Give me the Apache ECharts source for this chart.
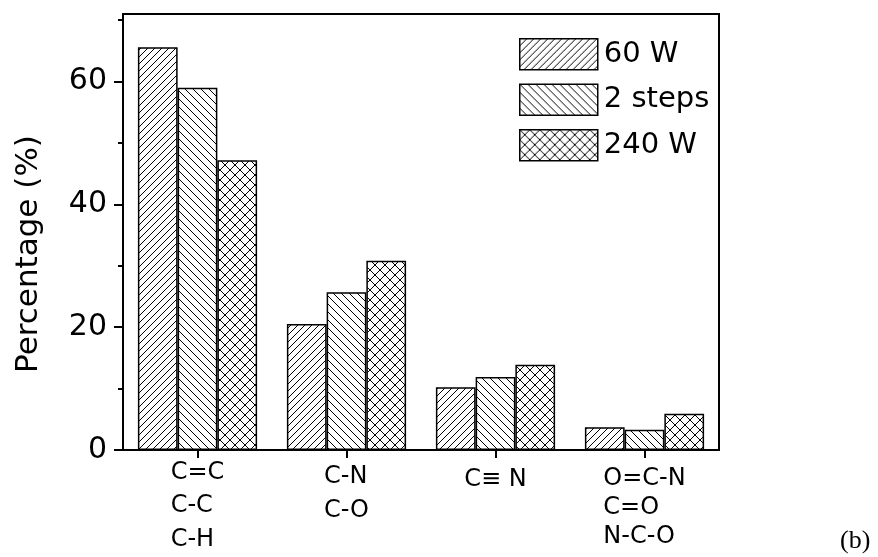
<!DOCTYPE html>
<html><head><meta charset="utf-8">
<script src="https://cdn.jsdelivr.net/npm/echarts@6/dist/echarts.min.js"></script>
<style>html,body{margin:0;padding:0;background:#fff}#c{width:878px;height:557px}</style>
</head><body><div id="c"></div>
<script>
const categories = ['C=C\nC-C\nC-H', 'C-N\nC-O', 'C≡ N', 'O=C-N\nC=O\nN-C-O'];
const seriesNames = ['60 W', '2 steps', '240 W'];
const values60W = [65.6, 20.5, 10.2, 3.7];
const values2steps = [59.0, 25.7, 11.9, 3.3];
const values240W = [47.2, 30.8, 13.9, 5.9];
const yTickValues = [0, 20, 40, 60];
const yMinorTickValues = [10, 30, 50, 70];
const yAxisTitle = 'Percentage (%)';
const panelLabel = '(b)';

const FONT = 'DejaVu Sans';

function hatch(p, fwd, back) {
  const c = document.createElement('canvas');
  c.width = p; c.height = p;
  const g = c.getContext('2d');
  g.fillStyle = '#fff'; g.fillRect(0, 0, p, p);
  g.fillStyle = '#000';
  for (let x = 0; x < p; x++) {
    for (let y = 0; y < p; y++) {
      const f = fwd && ((x + y) % p === p - 1);
      const b = back && (((x - y) % p + p) % p === 0);
      if (f || b) g.fillRect(x, y, 1, 1);
    }
  }
  return { image: c, repeat: 'repeat' };
}

const fills = [hatch(7, true, false), hatch(8, false, true), hatch(10, true, true)];
const seriesData = [values60W, values2steps, values240W];

const labelKeys = ['g1', 'g2', 'g3', 'g4'];
const labelPads = [0, 4, 0, 8];

const chart = echarts.init(document.getElementById('c'), null, { renderer: 'canvas' });
chart.setOption({
  animation: false,
  backgroundColor: '#fff',
  title: {
    text: panelLabel, left: 840, top: 528, padding: 0,
    textStyle: { fontFamily: 'Liberation Serif', fontSize: 26, fontWeight: 'normal', color: '#000' }
  },
  grid: { left: 123, right: 159, top: 14, bottom: 107, show: true, borderColor: '#000', borderWidth: 2, containLabel: false },
  legend: {
    orient: 'vertical', left: 514, top: 33, itemWidth: 78, itemHeight: 31, itemGap: 13,
    icon: 'rect',
    itemStyle: { borderColor: '#000', borderWidth: 1.5 },
    textStyle: { fontFamily: FONT, fontSize: 29, color: '#000', padding: [0, 0, 0, 1] },
    data: seriesNames
  },
  xAxis: {
    type: 'category',
    data: categories.map((c, i) => ({ value: c, textStyle: { padding: [labelPads[i], 0, 0, 0] } })),
    axisLine: { show: true, lineStyle: { color: '#000', width: 2 } },
    axisTick: { show: true, alignWithLabel: true, length: 8, lineStyle: { color: '#000', width: 2 } },
    axisLabel: {
      margin: 6, color: '#000', fontFamily: FONT, fontSize: 24, interval: 0,
      formatter: function (v, i) {
        return v.split('\n').map(l => '{' + labelKeys[i] + '|' + l + '}').join('\n');
      },
      rich: {
        g1: { align: 'left', lineHeight: 33.5, fontFamily: FONT, fontSize: 24, color: '#000' },
        g2: { align: 'left', lineHeight: 34, fontFamily: FONT, fontSize: 24, color: '#000' },
        g3: { lineHeight: 48, fontFamily: FONT, fontSize: 24, color: '#000' },
        g4: { align: 'left', lineHeight: 29, fontFamily: FONT, fontSize: 24, color: '#000' }
      }
    },
    splitLine: { show: false }
  },
  yAxis: [{
    type: 'value', min: 0, max: 71, interval: 10, position: 'left',
    name: yAxisTitle, nameLocation: 'middle', nameGap: 79, nameRotate: 90,
    nameTextStyle: { fontFamily: FONT, fontSize: 31, color: '#000', padding: [0, 44, 0, 0] },
    axisLine: { show: true, lineStyle: { color: '#000', width: 2 } },
    axisTick: { show: true, customValues: yTickValues, length: 9, lineStyle: { color: '#000', width: 2 } },
    axisLabel: { customValues: yTickValues, margin: 16, fontFamily: FONT, fontSize: 30, color: '#000' },
    splitLine: { show: false }
  }, {
    type: 'value', min: 0, max: 71, interval: 10, position: 'left', offset: 0,
    axisLine: { show: false },
    axisTick: { show: true, customValues: yMinorTickValues, length: 5, lineStyle: { color: '#000', width: 2 } },
    axisLabel: { show: false },
    splitLine: { show: false }
  }],
  series: seriesNames.map((n, i) => ({
    name: n, type: 'bar', data: seriesData[i],
    barGap: '0%', barCategoryGap: '20%',
    itemStyle: { color: fills[i], borderColor: '#000', borderWidth: 1.5 },
    emphasis: { disabled: true }
  }))
});
</script>
</body></html>
